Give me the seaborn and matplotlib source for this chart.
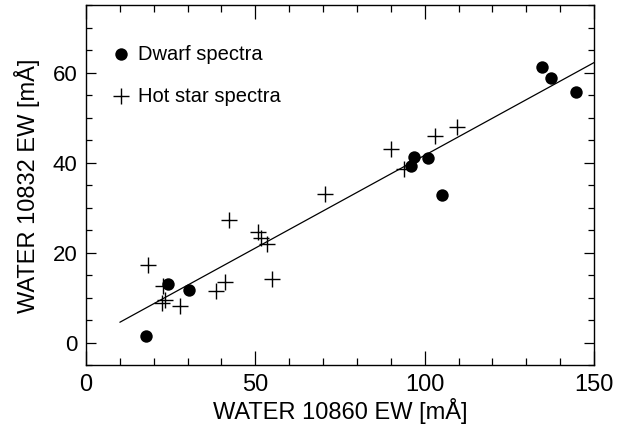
import numpy as np
import pandas as pd
import seaborn as sns
import matplotlib.pyplot as plt

# valores
dwarf_x = [17.6, 24.1, 30.5, 95.9, 96.9, 101.1, 105.0, 134.6, 137.2, 144.6]
dwarf_y = [1.4, 12.9, 11.6, 39.2, 41.2, 40.9, 32.8, 61.2, 58.8, 55.6]

hot_x = [18.4, 22.5, 23.2, 22.8, 27.9, 38.5, 41.0, 42.3, 50.8, 51.8, 53.3, 54.8,
         70.7, 90.0, 93.8, 103.0, 109.6]
hot_y = [17.3, 8.8, 9.4, 12.5, 8.2, 11.4, 13.4, 27.3, 24.5, 23.2, 21.8, 14.2,
         32.9, 42.9, 38.6, 46.0, 48.0]

fit_x = [10, 150]
fit_y = [4.5, 62.2]

df_dwarf = pd.DataFrame({'x': dwarf_x, 'y': dwarf_y})
df_hot = pd.DataFrame({'x': hot_x, 'y': hot_y})
df_fit = pd.DataFrame({'x': fit_x, 'y': fit_y})

sns.set_style('ticks')
plt.rcParams['font.family'] = ['Liberation Sans', 'DejaVu Sans']
plt.rcParams['text.color'] = 'black'
plt.rcParams['axes.labelcolor'] = 'black'

fig = plt.figure(figsize=(6.29, 4.27), dpi=100)
ax = fig.add_axes([86 / 629, 1 - 366 / 427, (594 - 86) / 629, (366 - 6) / 427])

sns.lineplot(data=df_fit, x='x', y='y', ax=ax, color='black', linewidth=0.9,
             estimator=None, sort=False)
sns.scatterplot(data=df_hot, x='x', y='y', ax=ax, marker='+', s=130,
                color='black', linewidth=1.0, label='Hot star spectra', zorder=3)
sns.scatterplot(data=df_dwarf, x='x', y='y', ax=ax, marker='o', s=80,
                color='black', edgecolor='black', linewidth=0, label='Dwarf spectra',
                zorder=4)

ax.set_xlim(0, 150)
ax.set_ylim(-5, 75)
ax.set_xticks([0, 50, 100, 150])
ax.set_xticks(np.arange(0, 151, 10), minor=True)
ax.set_yticks([0, 20, 40, 60])
ax.set_yticks(np.arange(-5, 76, 5), minor=True)
ax.tick_params(which='both', direction='in', top=True, right=True, width=0.9,
               colors='black')
ax.tick_params(axis='x', which='major', length=10, pad=6, labelsize=17)
ax.tick_params(axis='x', which='minor', length=5)
ax.tick_params(axis='y', which='major', length=7, pad=6, labelsize=16)
ax.tick_params(axis='y', which='minor', length=4.5)
for s in ax.spines.values():
    s.set_linewidth(1.0)
    s.set_color('black')

ax.set_xlabel('WATER 10860 EW [mÅ]', fontsize=17, labelpad=1)
ax.set_ylabel('WATER 10832 EW [mÅ]', fontsize=17, labelpad=9.5)

h, l = ax.get_legend_handles_labels()
order = [l.index('Dwarf spectra'), l.index('Hot star spectra')]
ax.legend([h[i] for i in order], [l[i] for i in order], loc='upper left',
          bbox_to_anchor=(0.033, 0.914), borderaxespad=0, frameon=False,
          fontsize=14.5, labelspacing=1.15, handlelength=1.0, handletextpad=0.35)

fig.savefig('out.png', dpi=100)
